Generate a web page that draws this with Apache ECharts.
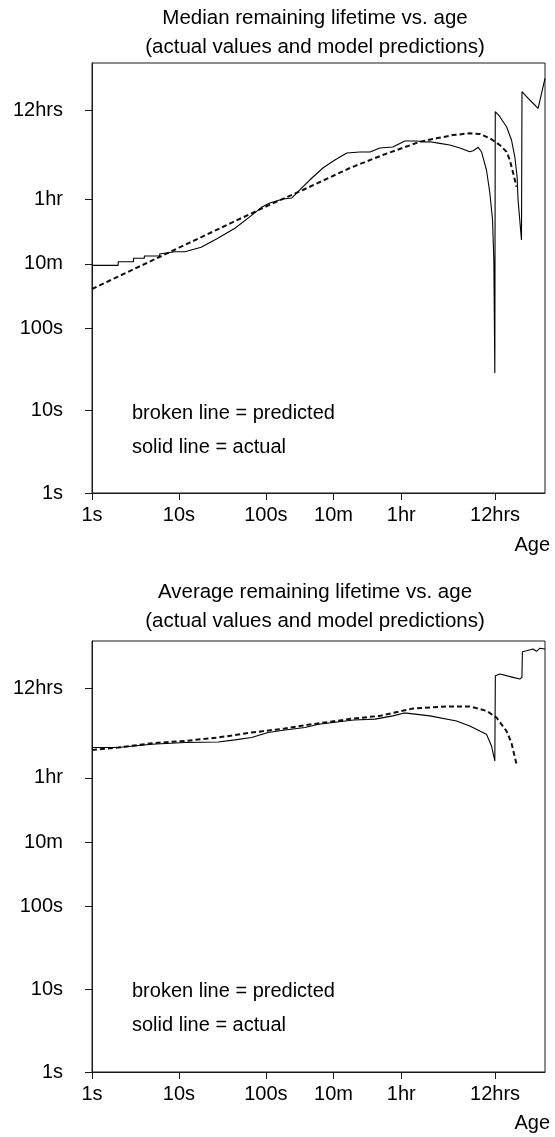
<!DOCTYPE html>
<html>
<head>
<meta charset="utf-8">
<script src="https://cdn.jsdelivr.net/npm/echarts@6/dist/echarts.min.js"></script>
<style>
  html, body { margin: 0; padding: 0; background: #fff; }
  #chart { width: 555px; height: 1137px; }
</style>
</head>
<body>
<div id="chart"></div>
<script>
// tick positions (seconds) and their labels, same on both axes
const tickValues = [1, 10, 100, 600, 3600, 43200]
const tickLabels = ['1s', '10s', '100s', '10m', '1hr', '12hrs']

// median remaining lifetime, actual (age s -> remaining s)
const medianActualAge = [1, 2, 2, 3, 3, 4, 4, 6, 6, 9, 11.7, 18, 28, 44, 68, 89, 111, 157, 199, 259, 338, 452, 621, 853, 1200, 1570, 2040, 2880, 3960, 5440, 6730, 7670, 10000, 13000, 17000, 22100, 24200, 27600, 30100, 34400, 37600, 40400, 41800, 42900, 43400, 49000, 58500, 66700, 72800, 77400, 79400, 86900, 88100, 99300, 118000, 135000, 162000]
const medianActualVal = [575, 575, 636, 636, 700, 700, 746, 746, 789, 841, 841, 951, 1222, 1618, 2300, 2900, 3273, 3660, 3767, 4980, 6580, 8700, 10870, 13200, 13600, 13600, 15200, 15600, 18500, 18500, 18000, 18100, 17300, 16500, 15200, 13700, 14100, 15500, 13700, 8230, 4330, 2040, 667, 28.5, 41900, 36400, 27500, 19000, 11900, 6820, 3560, 1166, 73100, 63700, 53000, 46000, 106000]

// median remaining lifetime, model prediction
const medianPredAge = [1, 10, 97, 266, 925, 2210, 5890, 9160, 14100, 22100, 28800, 37600, 49000, 58500, 63800, 69600, 76200]
const medianPredVal = [297, 940, 2925, 4710, 8700, 12500, 18100, 19900, 21800, 22900, 22500, 19950, 16500, 13700, 10900, 7570, 5160]

// average remaining lifetime, actual
const avgActualAge = [1, 2, 4.86, 11.7, 28.3, 44, 68.5, 106, 165, 281, 403, 1026, 1800, 2880, 3800, 4140, 7670, 15560, 22100, 28800, 34400, 39300, 42900, 43500, 49000, 69600, 83100, 87900, 89100, 99300, 118000, 129000, 141000, 162000]
const avgActualVal = [8390, 8390, 9200, 9640, 9810, 10380, 11100, 12750, 13700, 14650, 16070, 18100, 18500, 20260, 21850, 21850, 20260, 17600, 15300, 13330, 12160, 8770, 5770, 61900, 64900, 59200, 56500, 59200, 120900, 124400, 130400, 122300, 133000, 130400]

// average remaining lifetime, model prediction
const avgPredAge = [1, 2, 4.86, 11.7, 28.3, 68.5, 165, 281, 1026, 2043, 4930, 11940, 22100, 34400, 44800, 58300, 66500, 76200]
const avgPredVal = [7850, 8390, 9460, 10080, 11100, 12750, 14230, 15600, 18850, 20260, 24900, 26350, 26350, 23300, 19370, 13330, 9650, 5260]

const zip = (xs, ys) => xs.map((x, i) => [x, ys[i]])

const FONT = "'Liberation Sans', Arial, sans-serif"
const INK = '#1a1a1a'

const tickLabel = v => {
  let best = 0
  tickValues.forEach((t, i) => {
    if (Math.abs(Math.log10(v / t)) < Math.abs(Math.log10(v / tickValues[best]))) best = i
  })
  return tickLabels[best]
}

const makeX = gridIndex => ({
  type: 'log',
  gridIndex,
  logBase: 10,
  min: 1,
  max: 162000,
  axisLine: { show: true, lineStyle: { color: INK, width: 1 } },
  axisTick: { show: true, length: 7, customValues: tickValues, lineStyle: { color: INK } },
  axisLabel: {
    customValues: tickValues,
    formatter: tickLabel,
    margin: 12,
    color: '#000',
    fontSize: 20,
    fontFamily: FONT
  },
  splitLine: { show: false },
  minorTick: { show: false }
})

const makeY = gridIndex => ({
  type: 'log',
  gridIndex,
  logBase: 10,
  min: 1,
  max: 163000,
  axisLine: { show: true, lineStyle: { color: INK, width: 1 } },
  axisTick: { show: true, length: 7, customValues: tickValues, lineStyle: { color: INK } },
  axisLabel: {
    customValues: tickValues,
    formatter: tickLabel,
    margin: 29,
    color: '#000',
    fontSize: 20,
    fontFamily: FONT
  },
  splitLine: { show: false }
})

const solid = (idx, data) => ({
  type: 'line',
  xAxisIndex: idx,
  yAxisIndex: idx,
  data,
  showSymbol: false,
  symbol: 'none',
  lineStyle: { color: '#000', width: 1.1 },
  z: 3
})

const dashed = (idx, data) => ({
  type: 'line',
  xAxisIndex: idx,
  yAxisIndex: idx,
  data,
  showSymbol: false,
  symbol: 'none',
  lineStyle: { color: '#111', width: 2, type: [5, 3] },
  z: 2
})

const text = (x, y, s, align) => ({
  type: 'text',
  x,
  y,
  style: {
    text: s,
    fill: '#000',
    font: '20px ' + FONT,
    textAlign: align || 'left',
    textVerticalAlign: 'middle'
  }
})

const titleStyle = { fontSize: 20.5, fontWeight: 'normal', color: '#000', fontFamily: FONT, lineHeight: 29 }

const chart = echarts.init(document.getElementById('chart'))
chart.setOption({
  animation: false,
  backgroundColor: '#fff',
  title: [
    {
      text: 'Median remaining lifetime vs. age\n(actual values and model predictions)',
      left: 315,
      top: 4,
      padding: 0,
      textAlign: 'center',
      textStyle: titleStyle
    },
    {
      text: 'Average remaining lifetime vs. age\n(actual values and model predictions)',
      left: 315,
      top: 578,
      padding: 0,
      textAlign: 'center',
      textStyle: titleStyle
    }
  ],
  grid: [
    { left: 92, top: 63, width: 453, height: 430, show: true, borderColor: INK, borderWidth: 1, backgroundColor: 'transparent' },
    { left: 92, top: 641, width: 453, height: 431, show: true, borderColor: INK, borderWidth: 1, backgroundColor: 'transparent' }
  ],
  xAxis: [makeX(0), makeX(1)],
  yAxis: [makeY(0), makeY(1)],
  series: [
    dashed(0, zip(medianPredAge, medianPredVal)),
    solid(0, zip(medianActualAge, medianActualVal)),
    dashed(1, zip(avgPredAge, avgPredVal)),
    solid(1, zip(avgActualAge, avgActualVal))
  ],
  graphic: [
    text(132, 413, 'broken line = predicted'),
    text(132, 447, 'solid line = actual'),
    text(550, 545, 'Age', 'right'),
    text(132, 991, 'broken line = predicted'),
    text(132, 1025, 'solid line = actual'),
    text(550, 1123, 'Age', 'right')
  ]
})
</script>
</body>
</html>
